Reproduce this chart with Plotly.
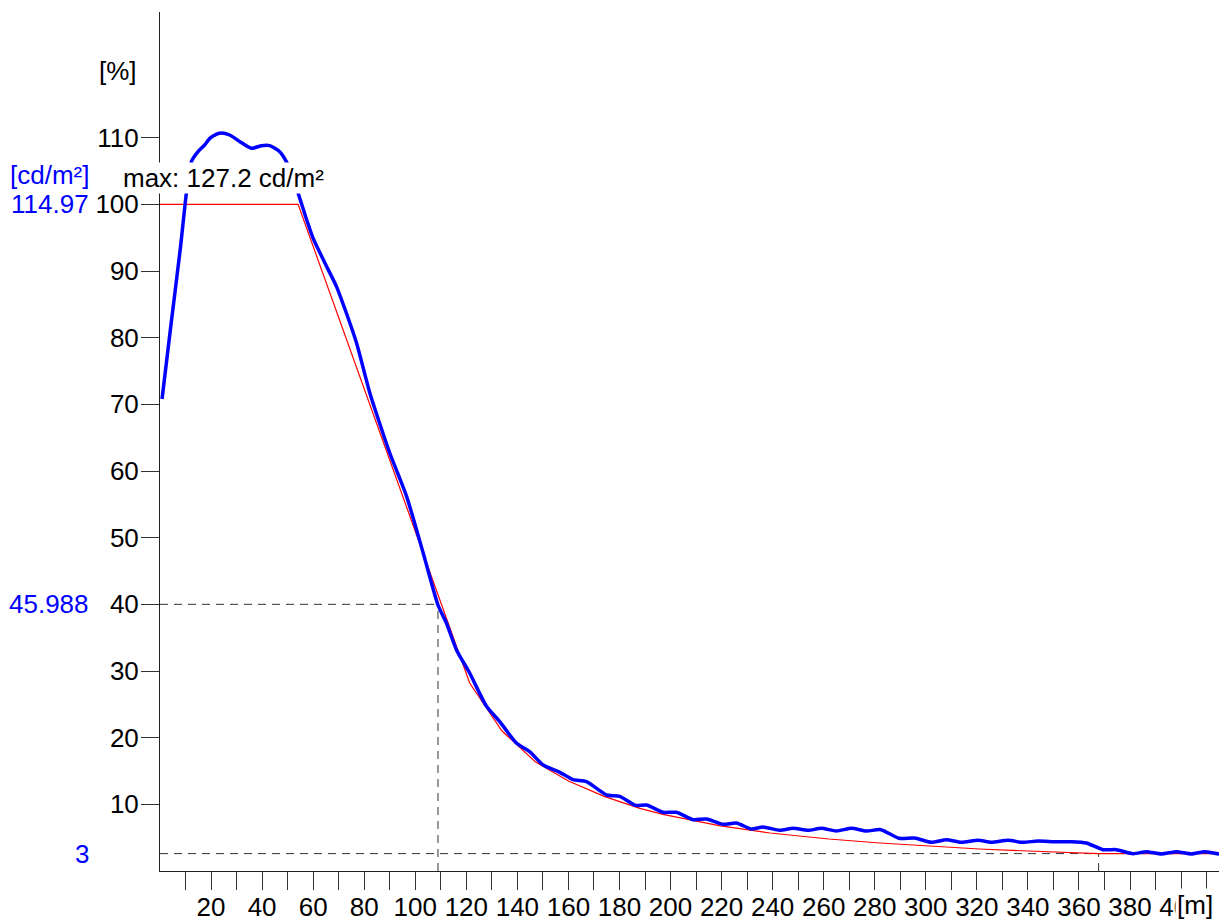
import plotly.graph_objects as go

# measured luminance curve, % of the 114.97 cd/m² reference level
dist_m = [0.8, 4, 8, 10.4, 12.3, 14.9, 17.5, 19.5, 22, 24.1, 27.3, 31.3, 35.8, 39.8, 43.0,
          46.9, 49.5, 52, 54.1, 57, 60, 64.6, 69.1, 73, 77, 82.2, 86, 90, 96.6, 103.1,
          108.9, 112.2, 116.1, 121.3, 127.9, 133.1, 139.6, 144.8, 150.1, 156.6, 161.8,
          167.1, 174.9, 180.1, 186.3, 190.6, 197.1, 202.3, 208.8, 214.1, 220.6, 225.8,
          231.7, 236.2, 242.8, 248.0, 253.9, 259.1, 265.0, 270.9, 276.7, 282.4, 289.5,
          295.6, 302.2, 308.1, 313.9, 320.5, 325.7, 332.2, 338.1, 343.9, 350.5, 357.0,
          362.9, 369.4, 374.6, 381.2, 386.4, 392.3, 398.2, 404.0, 409.2, 415.1, 418]
measured_pct = [70.8, 81, 93.5, 101.9, 106.4, 107.9, 108.9, 109.9, 110.5, 110.7, 110.4,
                109.4, 108.4, 108.8, 108.8, 107.9, 106.4, 104.0, 101.7, 98.2, 94.9, 91.2,
                87.7, 83.7, 79.2, 71.7, 67.2, 62.7, 56.2, 47.7, 39.9, 37.2, 33.2, 29.7,
                24.7, 22.4, 19.2, 17.9, 15.9, 14.8, 13.7, 13.4, 11.4, 11.2, 9.85, 9.9, 8.8,
                8.8, 7.7, 7.8, 7.0, 7.2, 6.3, 6.6, 6.1, 6.4, 6.1, 6.4, 6.0, 6.4, 6.0, 6.2,
                4.9, 4.95, 4.3, 4.7, 4.3, 4.6, 4.3, 4.6, 4.3, 4.5, 4.4, 4.4, 4.2, 3.2, 3.2,
                2.6, 2.9, 2.55, 2.9, 2.55, 2.9, 2.55, 2.6]

# required profile
req_dist_m = [0, 54.1, 121.3, 134, 147, 160, 174, 188, 197, 219, 239, 262, 282, 300, 321,
              340, 360, 367.7, 418]
req_pct = [100, 100, 28.2, 21, 16.4, 13.5, 11.2, 9.4, 8.5, 6.8, 5.7, 4.8, 4.2, 3.75, 3.3,
           3.0, 2.7, 2.61, 2.61]

ref_lum = 114.97
max_lum = 127.2
min_lum = 3
mark_pct = 40
mark_dist = 108.9
min_dist = 367.7

y_ticks = [10, 20, 30, 40, 50, 60, 70, 80, 90, 100, 110]
x_ticks = list(range(10, 420, 10))
x_labels = [str(v) if v % 20 == 0 else "" for v in x_ticks]

FONT = "Liberation Sans, Arial, sans-serif"
FS = 26
BLUE = "#0000FF"

fig = go.Figure()
fig.add_trace(go.Scatter(x=req_dist_m, y=req_pct, mode="lines",
                         line=dict(color="#FF0000", width=1.2), showlegend=False))
fig.add_trace(go.Scatter(x=dist_m, y=measured_pct, mode="lines",
                         line=dict(color=BLUE, width=3.5, shape="spline", smoothing=0.6),
                         showlegend=False))

min_pct = min_lum / ref_lum * 100
dash = dict(color="#333333", width=1, dash="8px,6px")
fig.add_shape(type="line", x0=0, x1=mark_dist, y0=mark_pct, y1=mark_pct, line=dash, layer="below")
fig.add_shape(type="line", x0=mark_dist, x1=mark_dist, y0=0, y1=mark_pct, line=dash, layer="below")
fig.add_shape(type="line", x0=0, x1=min_dist, y0=min_pct, y1=min_pct, line=dash, layer="below")
fig.add_shape(type="line", x0=min_dist, x1=min_dist, y0=0, y1=min_pct, line=dash, layer="below")

lab_x = -0.0647
for txt, yv in [("[cd/m²]", 104.4), (f"{ref_lum:g}", 100),
                (f"{ref_lum * mark_pct / 100:g}", mark_pct), (f"{min_lum:g}", min_pct)]:
    fig.add_annotation(x=lab_x, y=yv, xref="paper", yref="y", text=txt, showarrow=False,
                       xanchor="right", yanchor="middle", font=dict(color=BLUE, size=FS, family=FONT))

fig.add_annotation(x=-0.0197, y=120, xref="paper", yref="y", text="[%]", showarrow=False,
                   xanchor="right", yanchor="middle", font=dict(color="black", size=FS, family=FONT))
fig.add_annotation(x=25, y=103.9, xref="x", yref="y", text=f"max: {max_lum} cd/m²",
                   showarrow=False, xanchor="center", yanchor="middle", bgcolor="white",
                   borderpad=0, font=dict(color="black", size=FS, family=FONT))
fig.add_annotation(x=0.970, y=-0.0396, xref="paper", yref="paper", text="[m]", showarrow=False,
                   xanchor="center", yanchor="middle", bgcolor="white", borderpad=1,
                   font=dict(color="black", size=FS, family=FONT))

fig.update_xaxes(range=[0, 418], tickvals=x_ticks, ticktext=x_labels, ticks="outside",
                 ticklen=18, tickcolor="#333333", showline=True, linecolor="#222222",
                 linewidth=1, showgrid=False, zeroline=False, automargin=False,
                 ticklabelstandoff=-5, tickfont=dict(size=FS, color="black", family=FONT))
fig.update_yaxes(range=[0, 128.85], tickvals=y_ticks, ticks="outside", ticklen=18,
                 tickcolor="#333333", showline=True, linecolor="#222222", linewidth=1,
                 showgrid=False, zeroline=False, automargin=False, ticklabelstandoff=-3,
                 tickfont=dict(size=FS, color="black", family=FONT))

# the page body adds an 8px offset, so the figure is sized to end at the window edge
fig.update_layout(width=1219, height=911, margin=dict(l=152, r=0, t=4, b=48),
                  plot_bgcolor="white", paper_bgcolor="white", font=dict(family=FONT))

fig.write_html("out.html")
